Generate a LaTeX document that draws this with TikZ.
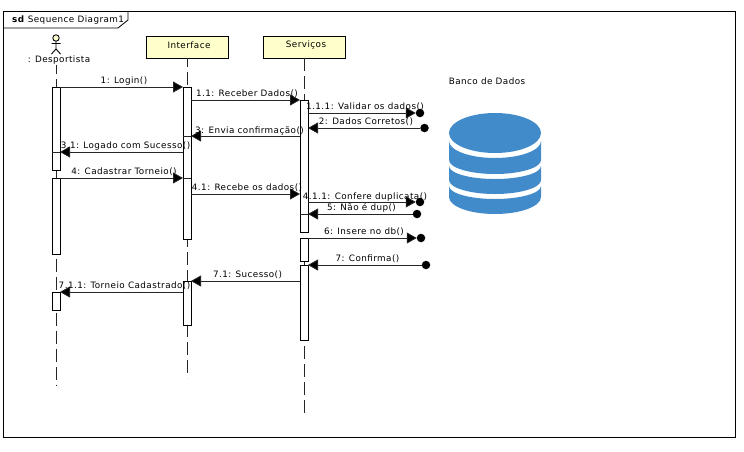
\documentclass[tikz,border=0pt]{standalone}
\usepackage{fontspec}
\setmainfont{DejaVu Sans}[LetterSpace=5]
\usetikzlibrary{arrows.meta}
\definecolor{nodefill}{HTML}{FFFFCC}
\definecolor{dbblue}{HTML}{428BCA}
\tikzset{
  lbl/.style={inner sep=0pt,yshift=-0.7pt,font=\fontsize{8.8}{10}\selectfont,text=black},
  lifeline/.style={draw=black!85,line width=0.8pt},
  obj/.style={draw=black,fill=nodefill,line width=0.9pt,minimum width=82pt,minimum height=22pt,inner sep=0pt,outer sep=0pt,anchor=center},
  objtxt/.style={inner sep=0pt,font=\fontsize{8.8}{10}\selectfont,text=black},
  act/.style={draw=black,fill=white,line width=0.9pt,minimum width=8pt,inner sep=0pt,outer sep=0pt},
  msg/.style={draw=black!85,line width=0.8pt,-{Triangle[length=10pt,width=11pt,fill=black]}},
  ret/.style={draw=black!85,line width=0.8pt},
  enddot/.style={circle,fill=black,minimum size=8.5pt,inner sep=0pt,outer sep=0pt},
  db/.style={fill=dbblue,draw=none}
}
\newcommand{\actbox}[4]{\node[act,minimum height=#4pt-#3pt] (#1) at (#2,{(#3+#4)/2}) {};}
\begin{document}
\begin{tikzpicture}[x=1pt,y=-1pt]
\useasboundingbox (0,0) rectangle (744,451);
\fill[white] (0,0) rectangle (744,451);
% frame
\draw[black,line width=1pt] (3.5,11.5) rectangle (735.5,437.5);
\draw[black,line width=0.8pt] (3.5,28) -- (118,28) -- (128,20) -- (128,11.5);
\node[lbl,anchor=west] (title) at (12,19.5) {\textbf{sd} Sequence Diagram1};
% actor
\coordinate (neck) at (56,41.2);
\draw[black,line width=0.9pt,fill=nodefill] (56,38) circle (3.2);
\draw[black,line width=0.9pt] (neck) -- (56,49) (51.5,43.5) -- (60.5,43.5) (51.5,54) -- (56,49) -- (60.5,54);
\node[lbl] (desp) at (59,59.5) {: Desportista};
\node[obj] (iface) at (187,47) {};
\node[objtxt] (ifacet) at (189,45) {Interface};
\node[obj] (serv) at (304,47) {};
\node[objtxt] (servt) at (306,45) {Serviços};
\coordinate (dend) at (56,385);
\coordinate (iend) at (187,378);
\coordinate (send) at (304,413);
\draw[lifeline,dash pattern=on 13pt off 5pt,dash phase=4pt] (desp.south -| dend) -- (dend);
\draw[lifeline,dash pattern=on 13pt off 5pt,dash phase=4pt] (iface.south) -- (iend);
\draw[lifeline,dash pattern=on 13pt off 5pt] (serv.south) -- (send);
% activations
\actbox{da}{56}{87}{170}
\actbox{db}{56}{178}{254}
\actbox{dc}{56}{292}{310}
\actbox{ia}{187}{87}{239}
\actbox{ib}{187}{281}{325}
\actbox{sa}{304}{100}{232}
\actbox{sb}{304}{238}{261}
\actbox{sc}{304}{265}{340}
% end dots
\node[enddot] (d1) at (420,113) {};
\node[enddot] (d2) at (424.5,128) {};
\node[enddot] (d3) at (420,202) {};
\node[enddot] (d4) at (417,214) {};
\node[enddot] (d5) at (421,238) {};
\node[enddot] (d6) at (426,265) {};
% messages
\draw[msg] (da.east |- 0,87) -- (ia.west |- 0,87);
\node[lbl] (l1) at (124,80) {1: Login()};
\draw[msg] (ia.east |- 0,100) -- (sa.west |- 0,100);
\node[lbl] (l2) at (247,93) {1.1: Receber Dados()};
\draw[msg] (sa.east |- 0,113) -- (d1.west |- 0,113);
\node[lbl] (l3) at (365,106) {1.1.1: Validar os dados()};
\draw[msg] (d2) -- (sa.east |- 0,128);
\node[lbl] (l4) at (366,121) {2: Dados Corretos()};
\draw[msg] (sa.west |- 0,136) -- (ia.east |- 0,136);
\draw[ret] (ia.west |- 0,136) -- (ia.east |- 0,136);
\node[lbl] (l5) at (249.5,130) {3: Envia confirmação()};
\draw[msg] (ia.west |- 0,152) -- (da.east |- 0,152);
\draw[ret] (da.west |- 0,152) -- (da.east |- 0,152);
\node[lbl] (l6) at (125.5,145) {3.1: Logado com Sucesso()};
\draw[msg] (db.east |- 0,178) -- (ia.west |- 0,178);
\draw[ret] (ia.west |- 0,178) -- (ia.east |- 0,178);
\node[lbl] (l7) at (124,171) {4: Cadastrar Torneio()};
\draw[msg] (ia.east |- 0,194) -- (sa.west |- 0,194);
\node[lbl] (l8) at (247,187) {4.1: Recebe os dados()};
\draw[msg] (sa.east |- 0,202) -- (d3.west |- 0,202);
\node[lbl] (l9) at (365,196) {4.1.1: Confere duplicata()};
\draw[msg] (d4) -- (sa.east |- 0,214);
\draw[ret] (sa.west |- 0,214) -- (sa.east |- 0,214);
\node[lbl] (l10) at (361.5,207) {5: Não é dup()};
\draw[msg] (sb.east |- 0,238) -- (d5.west |- 0,238);
\node[lbl] (l11) at (364,231) {6: Insere no db()};
\draw[msg] (d6) -- (sc.east |- 0,265);
\node[lbl] (l12) at (367.5,258) {7: Confirma()};
\draw[msg] (sc.west |- 0,281) -- (ib.east |- 0,281);
\node[lbl] (l13) at (247.5,274) {7.1: Sucesso()};
\draw[msg] (ib.west |- 0,292) -- (dc.east |- 0,292);
\node[lbl] (l14) at (124.5,285) {7.1.1: Torneio Cadastrado()};
% database
\node[lbl] (bd) at (487,80.5) {Banco de Dados};
\fill[db] (495,133) ellipse (46 and 20);
\fill[db] (449,141) arc[start angle=180,end angle=0,x radius=46,y radius=17] -- (541,160) arc[start angle=0,end angle=180,x radius=46,y radius=14] -- cycle;
\fill[db] (449,166) arc[start angle=180,end angle=0,x radius=46,y radius=13] -- (541,180) arc[start angle=0,end angle=180,x radius=46,y radius=14] -- cycle;
\fill[db] (449,186) arc[start angle=180,end angle=0,x radius=46,y radius=13] -- (541,197) arc[start angle=0,end angle=180,x radius=46,y radius=17] -- cycle;
\end{tikzpicture}
\end{document}
